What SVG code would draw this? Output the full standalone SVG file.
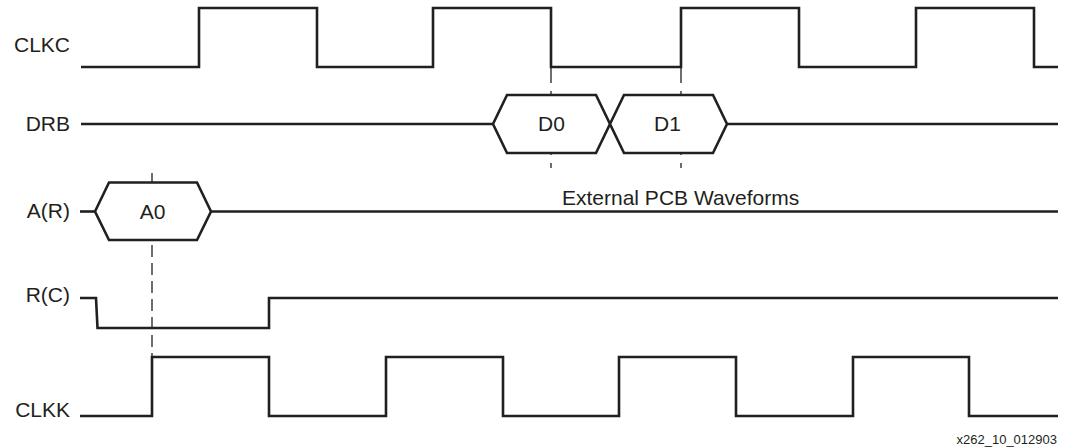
<svg xmlns="http://www.w3.org/2000/svg" width="1072" height="448" viewBox="0 0 1072 448">
<style>
.w{fill:none;stroke:#231f20;stroke-width:2.6;stroke-linejoin:miter;stroke-linecap:butt}
.hex{fill:#ffffff;stroke:#231f20;stroke-width:2.6;stroke-linejoin:miter}
.d{fill:none;stroke:#231f20;stroke-width:1.3;stroke-dasharray:16 8}
.d2{fill:none;stroke:#231f20;stroke-width:1.3;stroke-dasharray:12 6}
.lbl{font-family:"Liberation Sans",Arial,sans-serif;font-size:21px;fill:#231f20}
</style>
<rect width="1072" height="448" fill="#ffffff"/>
<g id="connectors">
<line class="d" x1="551" y1="67" x2="551" y2="168"/>
<line class="d" x1="681" y1="67" x2="681" y2="168"/>
<line class="d2" x1="152" y1="173" x2="152" y2="357"/>
</g>
<g id="clkc">
<text class="lbl" x="70" y="52" text-anchor="end">CLKC</text>
<path class="w" d="M81 67 H199 V8 H317 V67 H433 V8 H551 V67 H681 V8 H799 V67 H916 V8 H1034 V67 H1058"/>
</g>
<g id="drb">
<text class="lbl" x="70" y="131" text-anchor="end">DRB</text>
<path class="w" d="M81 124 H493"/>
<path class="w" d="M727 124 H1058"/>
<g id="d0">
<polygon class="hex" points="493,124 507,95 596,95 610,124 596,153 507,153"/>
<text class="lbl" x="551.5" y="131" text-anchor="middle">D0</text>
</g>
<g id="d1">
<polygon class="hex" points="610,124 624,95 713,95 727,124 713,153 624,153"/>
<text class="lbl" x="667.5" y="131" text-anchor="middle">D1</text>
</g>
</g>
<g id="ar">
<text class="lbl" x="70" y="218" text-anchor="end">A(R)</text>
<path class="w" d="M80 211.5 H95"/>
<path class="w" d="M211 211.5 H1058"/>
<g id="a0">
<polygon class="hex" points="95,211.5 109,182.5 197,182.5 211,211.5 197,240 109,240"/>
<text class="lbl" x="152.5" y="219" text-anchor="middle">A0</text>
</g>
</g>
<g id="ext">
<text class="lbl" x="562" y="205">External PCB Waveforms</text>
</g>
<g id="rc">
<text class="lbl" x="70" y="302" text-anchor="end">R(C)</text>
<path class="w" d="M80 298 H96 L97.5 328 H269 V298 H1058"/>
</g>
<g id="clkk">
<text class="lbl" x="70" y="417" text-anchor="end">CLKK</text>
<path class="w" d="M80 416 H152 V357 H269 V416 H386 V357 H503 V416 H619 V357 H736 V416 H853 V357 H969 V416 H1058"/>
</g>
<g id="fig-id">
<text class="lbl" x="1057" y="444" text-anchor="end" style="font-size:13px">x262_10_012903</text>
</g>
</svg>
